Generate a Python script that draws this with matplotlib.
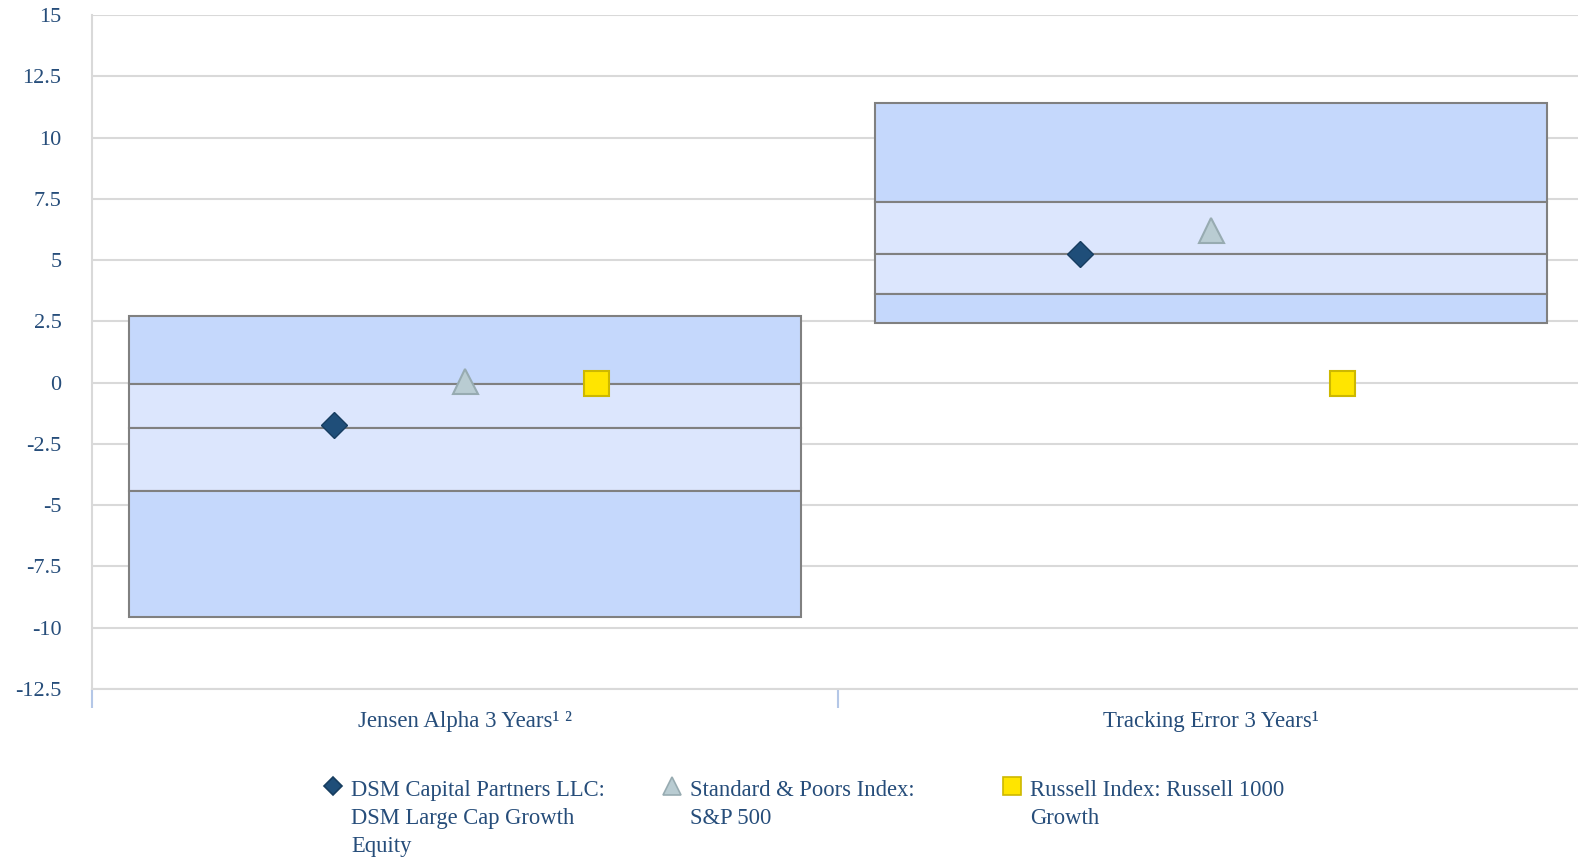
import matplotlib.pyplot as plt
import numpy as np

plt.rcParams['font.family'] = ['Liberation Serif', 'DejaVu Serif']

# data
categories = ['Jensen Alpha 3 Years\u00b9 \u00b2', 'Tracking Error 3 Years\u00b9']
band_top = [2.72, 11.42]
band_q1 = [-0.07, 7.39]
band_med = [-1.87, 5.24]
band_q3 = [-4.43, 3.61]
band_bottom = [-9.56, 2.42]

dsm = [-1.72, 5.25]
sp500 = [0.07, 6.24]
r1000g = [0.0, 0.0]

legend_labels = ['DSM Capital Partners LLC:\nDSM Large Cap Growth\nEquity',
                 'Standard & Poors Index:\nS&P 500',
                 'Russell Index: Russell 1000\nGrowth']

txt = '#264d7a'
outer = '#c5d8fc'
inner = '#dce6fd'
edge = '#808080'

W, H = 1578, 859
fig = plt.figure(figsize=(W / 100, H / 100), dpi=100)
# plot area runs a little past the right edge of the image
ax = fig.add_axes([92 / W, (H - 689) / H, 2 * 746 / W, 674 / H])

x = np.arange(len(categories))
top = np.array(band_top)
q1 = np.array(band_q1)
med = np.array(band_med)
q3 = np.array(band_q3)
bot = np.array(band_bottom)

# stacked floating bars: outer, inner, inner, outer
for lo, hi, col in [(q1, top, outer), (med, q1, inner), (q3, med, inner), (bot, q3, outer)]:
    ax.bar(x, hi - lo, bottom=lo, width=0.9, color=col, edgecolor=edge,
           linewidth=1.5, zorder=2)

off = 0.175
ax.plot(x - off, dsm, 'D', ms=13, mfc='#1f4e79', mec='#173d60', mew=1, ls='none', zorder=3)
ax.plot(x, sp500, '^', ms=18, mfc='#b9ccd2', mec='#97abb1', mew=1.5, ls='none', zorder=3)
ax.plot(x + off, r1000g, 's', ms=18, mfc='#ffe500', mec='#cdb800', mew=1.5, ls='none', zorder=3)

ax.set_ylim(-12.5, 15)
ax.set_xlim(-0.5, 1.5)
ax.set_yticks(np.arange(-12.5, 15.1, 2.5))
ax.set_yticklabels(['%g' % v for v in np.arange(-12.5, 15.1, 2.5)])
ax.yaxis.grid(True, color='#d9d9d9', linewidth=1.5, zorder=0)
ax.set_axisbelow(True)
ax.tick_params(axis='y', length=0, pad=22, labelsize=16, labelcolor=txt)

ax.set_xticks([-0.5, 0.5, 1.5])
ax.set_xticklabels([])
ax.tick_params(axis='x', which='major', direction='out', length=13.7, width=1.5, color='#b4c7e7')
ax.set_xticks(x, minor=True)
ax.set_xticklabels(categories, minor=True)
ax.tick_params(axis='x', which='minor', length=0, pad=15.5, labelsize=16.5, labelcolor=txt)

for s in ['top', 'right']:
    ax.spines[s].set_visible(False)
ax.spines['left'].set_color('#d9d9d9')
ax.spines['left'].set_linewidth(1.5)
ax.spines['bottom'].set_color('#d9d9d9')
ax.spines['bottom'].set_linewidth(1.5)

# legend, placed by hand
lax = fig.add_axes([0, 0, 1, 1])
lax.set_xlim(0, W)
lax.set_ylim(H, 0)
lax.axis('off')
lax.patch.set_visible(False)
leg_markers = [('D', 9, '#1f4e79', '#173d60'), ('^', 13, '#b9ccd2', '#97abb1'), ('s', 13, '#ffe500', '#cdb800')]
leg_x = [333, 672, 1012]
for (m, ms, fc, ec), lx, lab in zip(leg_markers, leg_x, legend_labels):
    lax.plot([lx], [786], m, ms=ms, mfc=fc, mec=ec, mew=1.2)
    lax.text(lx + 18, 780, lab, ha='left', va='top', fontsize=16.3, color=txt, linespacing=1.45)

fig.savefig('out.png', dpi=100)
